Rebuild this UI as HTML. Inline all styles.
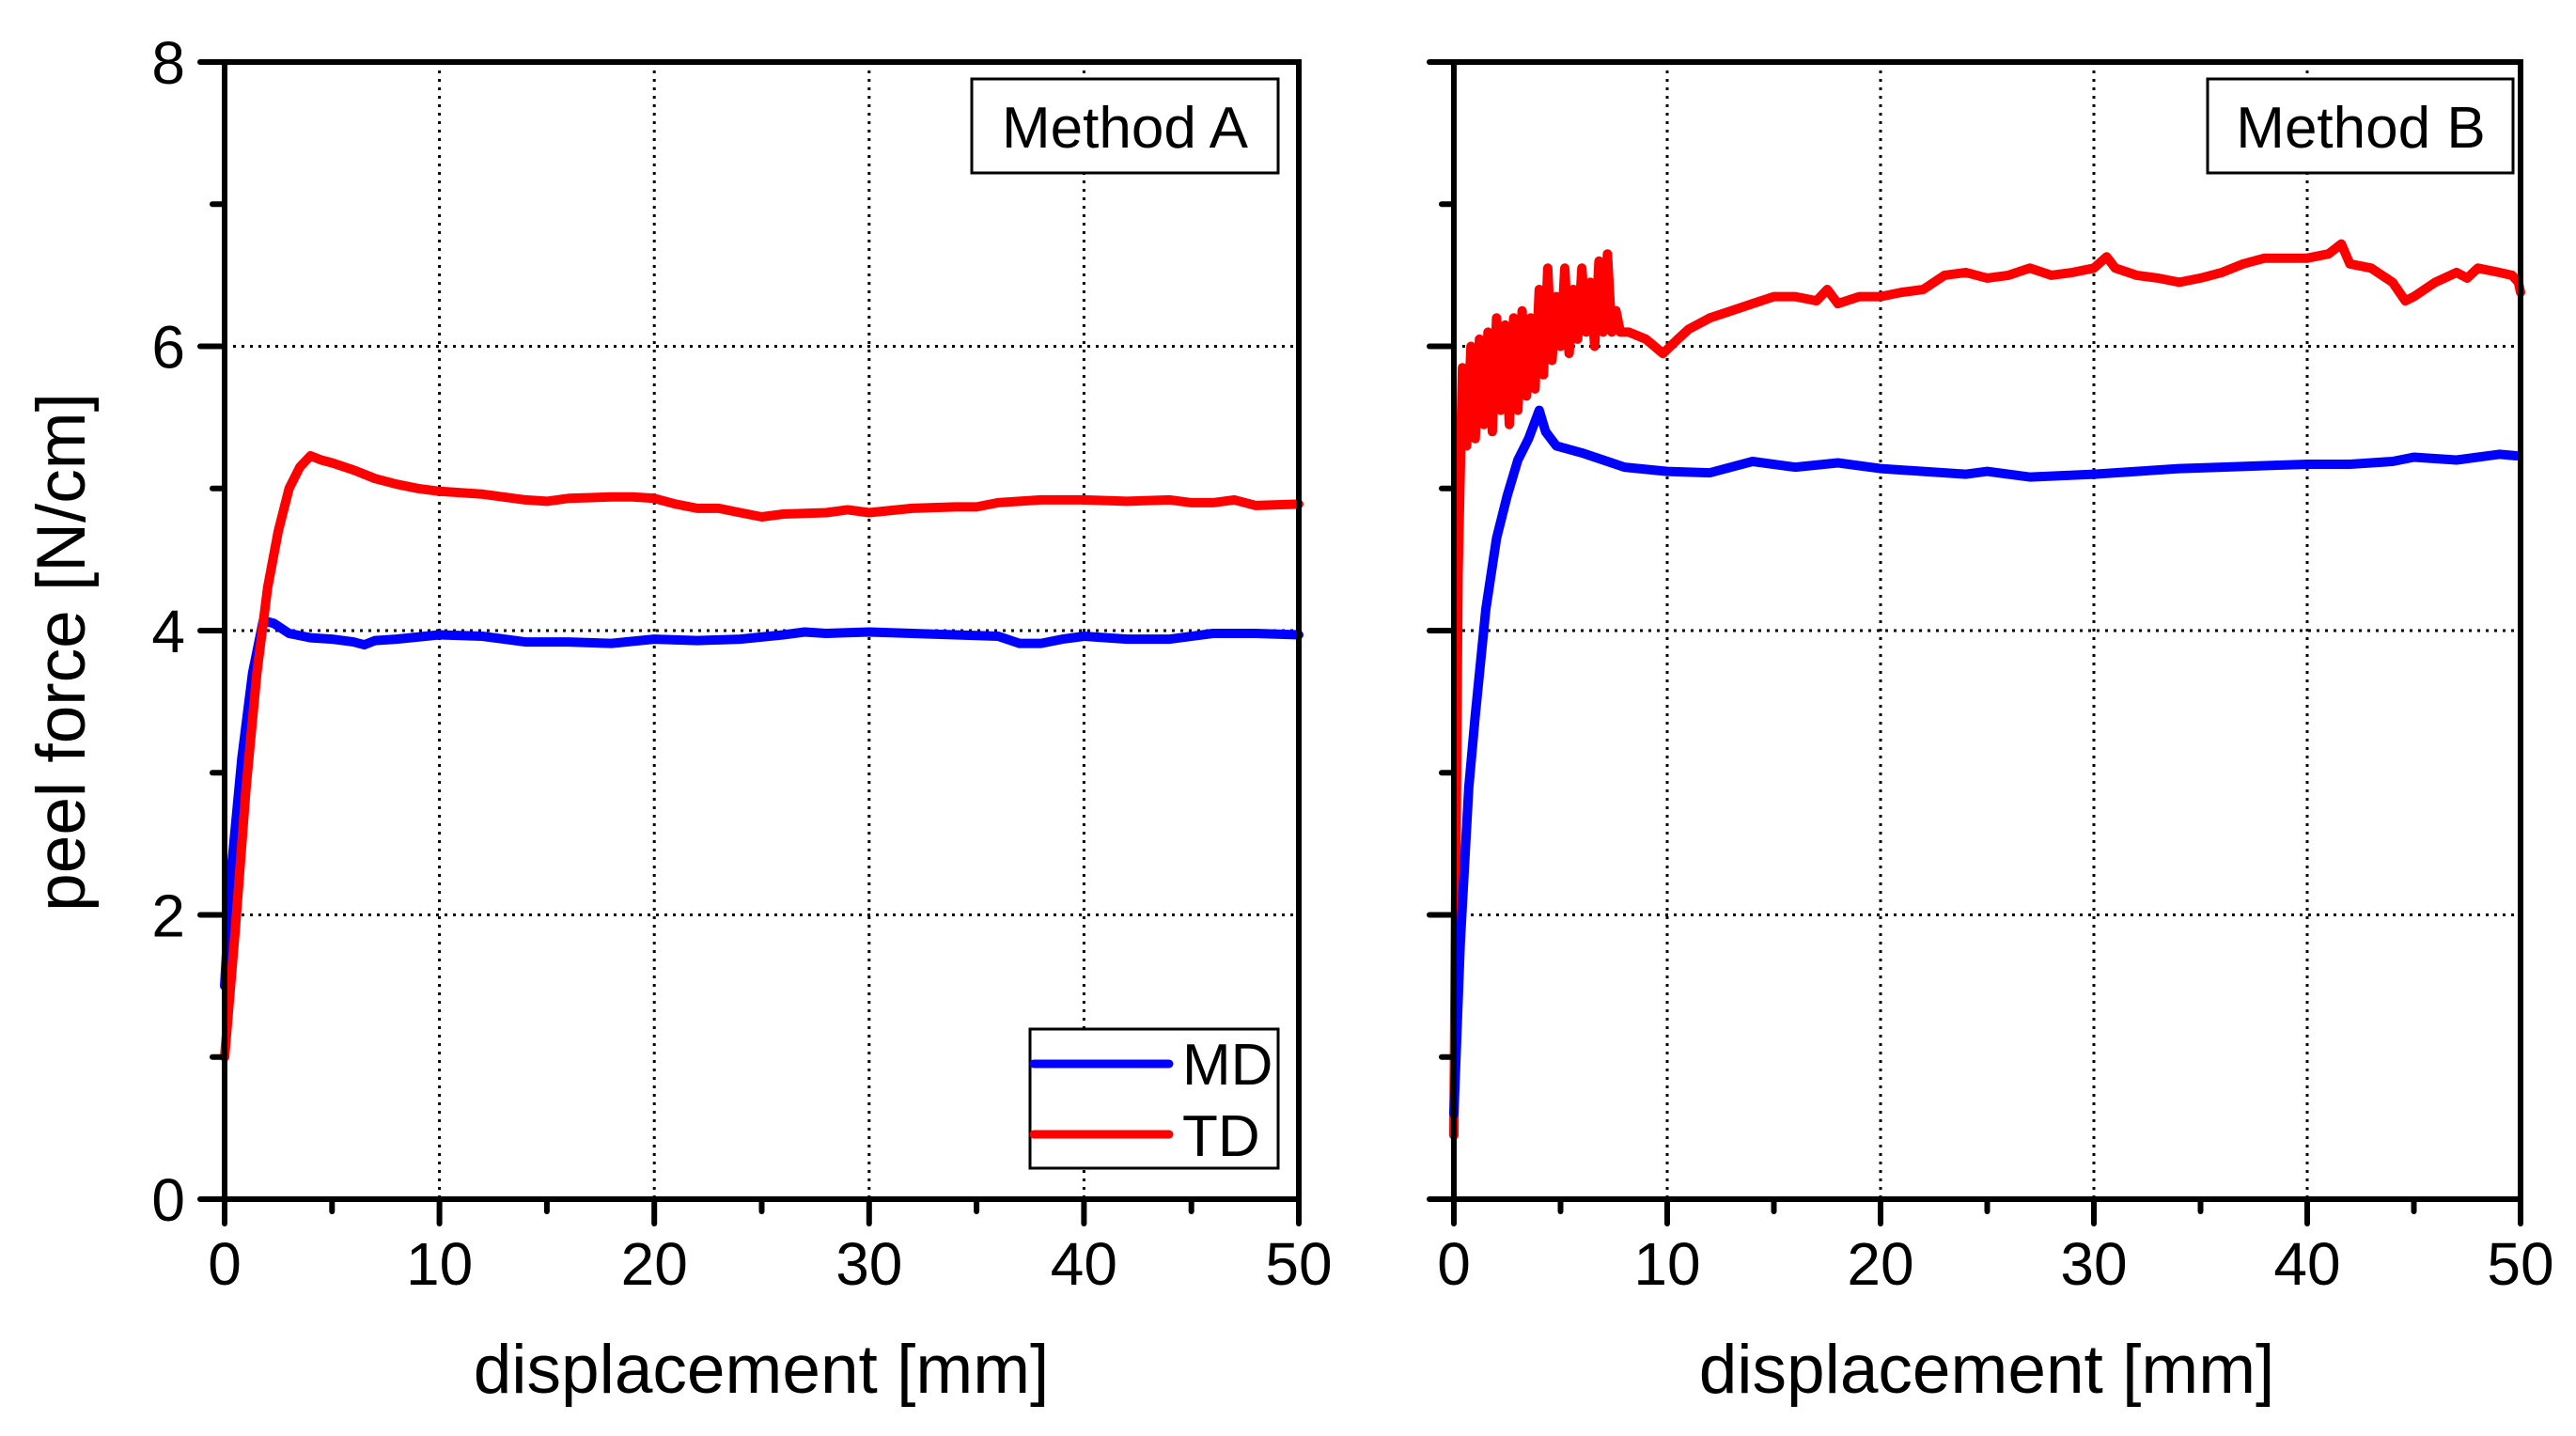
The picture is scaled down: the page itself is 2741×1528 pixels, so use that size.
<!DOCTYPE html>
<html><head><meta charset="utf-8">
<style>
html,body{margin:0;padding:0;background:#fff;}
svg{display:block;font-family:"Liberation Sans",Arial,sans-serif;}
</style></head>
<body>
<svg id="fig" width="2741" height="1528" viewBox="0 0 2741 1528" xmlns="http://www.w3.org/2000/svg">
<rect width="2741" height="1528" fill="#fff"/>
<g id="pA"></g>
<g id="pB"></g>
<text x="0" y="0" font-size="73" text-anchor="middle" transform="translate(90,694) rotate(-90)">peel force [N/cm]</text>
<text x="810" y="1482" font-size="73" text-anchor="middle">displacement [mm]</text>
<text x="2114" y="1482" font-size="73" text-anchor="middle">displacement [mm]</text>
<g>
<rect x="1034" y="84" width="326" height="100" fill="#fff" stroke="#000" stroke-width="3"/>
<text x="1197" y="157" font-size="62" text-anchor="middle">Method A</text>
</g>
<g>
<rect x="2349" y="84" width="325" height="100" fill="#fff" stroke="#000" stroke-width="3"/>
<text x="2512" y="157" font-size="62" text-anchor="middle">Method B</text>
</g>
<g>
<rect x="1096" y="1095" width="264" height="148" fill="#fff" stroke="#000" stroke-width="3"/>
<line x1="1100" y1="1132" x2="1244" y2="1132" stroke="#0000ff" stroke-width="9" stroke-linecap="round"/>
<text x="1258" y="1154" font-size="62">MD</text>
<line x1="1100" y1="1207" x2="1244" y2="1207" stroke="#ff0000" stroke-width="9" stroke-linecap="round"/>
<text x="1258" y="1230" font-size="62">TD</text>
</g>
</svg>
<script>
const xTicks=[0,10,20,30,40,50];
const yTicks=[0,2,4,6,8];
// Method A
const aMD_x=[0,0.3,0.8,1.3,1.8,2.3,3,4,5,6,6.5,7,8,10,12,14,16,18,20,22,24,26,27,28,30,32,34,36,37,38,39,40,42,44,46,48,50];
const aMD_y=[1.5,2.3,3.1,3.7,4.07,4.05,3.98,3.95,3.94,3.92,3.9,3.93,3.94,3.97,3.96,3.92,3.92,3.91,3.94,3.93,3.94,3.97,3.99,3.98,3.99,3.98,3.97,3.96,3.91,3.91,3.94,3.96,3.94,3.94,3.98,3.98,3.97];
const aTD_x=[0,0.5,1,1.5,2,2.5,3,3.5,4,4.5,5,6,7,8,9,10,12,14,15,16,18,19,20,21,22,23,24,25,26,28,29,30,32,34,35,36,38,40,42,44,45,46,47,48,50];
const aTD_y=[1.0,1.9,2.9,3.7,4.3,4.7,5.0,5.15,5.23,5.2,5.18,5.13,5.07,5.03,5.0,4.98,4.96,4.92,4.91,4.93,4.94,4.94,4.93,4.89,4.86,4.86,4.83,4.8,4.82,4.83,4.85,4.83,4.86,4.87,4.87,4.9,4.92,4.92,4.91,4.92,4.9,4.9,4.92,4.88,4.89];
// Method B
const bMD_x=[0,0.3,0.7,1,1.5,2,2.5,3,3.5,4,4.3,4.8,6,8,10,12,14,16,18,20,22,24,25,27,30,32,34,36,38,40,42,44,45,47,49,49.8];
const bMD_y=[0.6,1.8,2.9,3.4,4.15,4.65,4.95,5.2,5.35,5.55,5.4,5.3,5.25,5.15,5.12,5.11,5.19,5.15,5.18,5.14,5.12,5.1,5.12,5.08,5.1,5.12,5.14,5.15,5.16,5.17,5.17,5.19,5.22,5.2,5.24,5.23];
const bTD_x=[0,0.2,0.4,0.6,0.8,1.0,1.2,1.4,1.6,1.8,2.0,2.2,2.4,2.6,2.8,3.0,3.2,3.4,3.6,3.8,4.0,4.2,4.4,4.6,4.8,5.0,5.2,5.4,5.6,5.8,6.0,6.2,6.4,6.6,6.8,7.0,7.2,7.4,7.6,7.8,8.2,9,9.8,10.5,11,12,13,14,15,16,17,17.5,18,19,20,21,22,23,24,25,26,27,28,29,30,30.6,31,32,33,34,35,36,37,38,39,40,41,41.6,42,43,44,44.6,45,46,47,47.5,48,49,49.6,49.9,50];
const bTD_y=[0.45,4.4,5.85,5.3,6.0,5.35,6.05,5.45,6.1,5.4,6.2,5.55,6.15,5.45,6.2,5.55,6.25,5.65,6.2,5.7,6.4,5.8,6.55,5.9,6.35,6.0,6.55,5.95,6.4,6.05,6.55,6.1,6.45,6.0,6.6,6.1,6.65,6.1,6.25,6.1,6.1,6.05,5.95,6.05,6.12,6.2,6.25,6.3,6.35,6.35,6.32,6.4,6.3,6.35,6.35,6.38,6.4,6.5,6.52,6.48,6.5,6.55,6.5,6.52,6.55,6.63,6.55,6.5,6.48,6.45,6.48,6.52,6.58,6.62,6.62,6.62,6.65,6.72,6.58,6.55,6.45,6.32,6.35,6.45,6.52,6.48,6.55,6.52,6.5,6.45,6.38,5.5];

const NS="http://www.w3.org/2000/svg";
function mk(tag,attrs,parent){const e=document.createElementNS(NS,tag);for(const k in attrs)e.setAttribute(k,attrs[k]);parent.appendChild(e);return e;}
const Y0=1276,Y8=66;
function yS(v){return Y0+(Y8-Y0)*v/8;}
function panel(g,x0,x50,showY,series){
  const xS=v=>x0+(x50-x0)*v/50;
  for(const t of xTicks){ if(t===0||t===50)continue;
    const l=mk('line',{x1:xS(t),y1:Y8,x2:xS(t),y2:Y0,stroke:'#000','stroke-width':3,'stroke-dasharray':'3 6'},g);
    
    }
  for(const t of yTicks){ if(t===0||t===8)continue;
    const l=mk('line',{x1:x0,y1:yS(t),x2:x50,y2:yS(t),stroke:'#000','stroke-width':3,'stroke-dasharray':'3 6'},g);
    
    }
  for(const s of series){
    const d=s.x.map((v,i)=>(i?'L':'M')+xS(v).toFixed(1)+' '+yS(s.y[i]).toFixed(1)).join(' ');
    const p=mk('path',{d:d,fill:'none',stroke:s.c,'stroke-width':10,'stroke-linejoin':'round','stroke-linecap':'round'},g);
    
    
  }
  const f=mk('rect',{x:x0,y:Y8,width:x50-x0,height:Y0-Y8,fill:'none',stroke:'#000','stroke-width':6},g);
  
  
  for(let t=0;t<=50;t+=5){
    const maj=t%10===0;
    const tk=mk('line',{x1:xS(t),y1:Y0,x2:xS(t),y2:Y0+(maj?26:13),stroke:'#000','stroke-width':6,'stroke-linecap':'round'},g);
    
    
  }
  for(const t of xTicks){
    const tx=mk('text',{x:xS(t),y:1367,'font-size':64,'text-anchor':'middle'},g);
    tx.textContent=t;
    
    
  }
  for(let t=0;t<=8;t+=1){
    const maj=t%2===0;
    const tk=mk('line',{x1:x0,y1:yS(t),x2:x0-(maj?26:13),y2:yS(t),stroke:'#000','stroke-width':6,'stroke-linecap':'round'},g);
    
    
  }
  if(showY){for(const t of yTicks){
    const tx=mk('text',{x:x0-42,y:yS(t)+23,'font-size':64,'text-anchor':'end'},g);
    tx.textContent=t;
    
    
  }}
}
panel(document.getElementById('pA'),239,1382,true,[
 {x:aMD_x,y:aMD_y,c:'#0000ff',n:'line-a-md'},
 {x:aTD_x,y:aTD_y,c:'#ff0000',n:'line-a-td'}]);
panel(document.getElementById('pB'),1547,2682,false,[
 {x:bTD_x,y:bTD_y,c:'#ff0000',n:'line-b-td'},
 {x:bMD_x,y:bMD_y,c:'#0000ff',n:'line-b-md'}]);
</script>
</body></html>
